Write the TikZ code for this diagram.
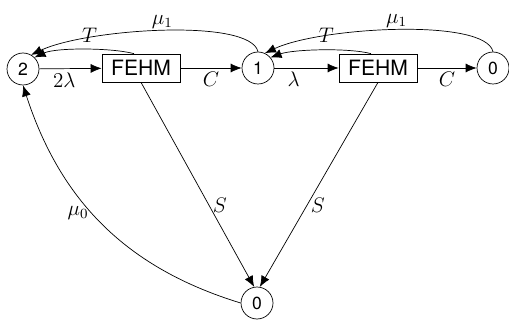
\documentclass[tikz,border=0pt]{standalone}
\usepackage{amsmath}
\usepackage{fontspec}
\setsansfont{TeX Gyre Heros}
\usepackage{tikz}
\usetikzlibrary{arrows.meta}
\tikzset{
    state/.style={circle, draw, minimum size=0.64cm, inner sep=0pt, font=\sffamily},
    unit/.style={rectangle, draw, minimum width=1.56cm, minimum height=0.56cm, inner sep=0pt, font=\sffamily\large},
    arr/.style={-{Latex[length=2.2mm, width=1.8mm]}},
    edgelabel/.style={font=\large, inner sep=2pt}
}

\begin{document}
\begin{tikzpicture}[x=0.02cm, y=-0.02cm]
            \useasboundingbox (0,0) rectangle (509,324);
            \node[state] (s2) at (23,69) {2};
            \node[unit] (f1) at (141,68) {FEHM};
            \node[state] (s1) at (258,68) {1};
            \node[unit] (f2) at (378,68) {FEHM};
            \node[state] (s0) at (493,68) {0};
            \node[state] (z0) at (257,303) {0};
            
            \draw[arr] (s2) -- node[edgelabel, below, pos=0.4] {$2\lambda$} (f1);
            \draw[arr] (f1) -- node[edgelabel, below] {$C$} (s1);
            \draw[arr] (s1) -- node[edgelabel, below, pos=0.3] {$\lambda$} (f2);
            \draw[arr] (f2) -- node[edgelabel, below] {$C$} (s0);
            
            \draw[arr] ([xshift=-4pt]f1.north) to[out=165, in=25, looseness=0.6] node[edgelabel, anchor=south, yshift=4pt, pos=0.45, inner sep=0pt] {$T$} (s2.45);
            \draw[arr] ([xshift=-4pt]f2.north) to[out=165, in=20, looseness=0.6] node[edgelabel, anchor=south, yshift=4pt, pos=0.45, inner sep=0pt] {$T$} (s1.40);
            \draw[arr] (s1.north) .. controls +(-8,-34) and +(55,-26) .. node[edgelabel, above, inner sep=1pt] {$\mu_1$} (s2.60);
            \draw[arr] (s0.north) .. controls +(-8,-34) and +(55,-26) .. node[edgelabel, above, inner sep=1pt] {$\mu_1$} (s1.65);
            
            \draw[arr] (f1.south) -- node[edgelabel, right, pos=0.6] {$S$} (z0.100);
            \draw[arr] (f2.south) -- node[edgelabel, right, pos=0.6] {$S$} (z0.80);
            \draw[arr] (z0.west) to[out=163, in=-72] node[edgelabel, left, pos=0.55] {$\mu_0$} (s2.south);
        \end{tikzpicture}
\end{document}
